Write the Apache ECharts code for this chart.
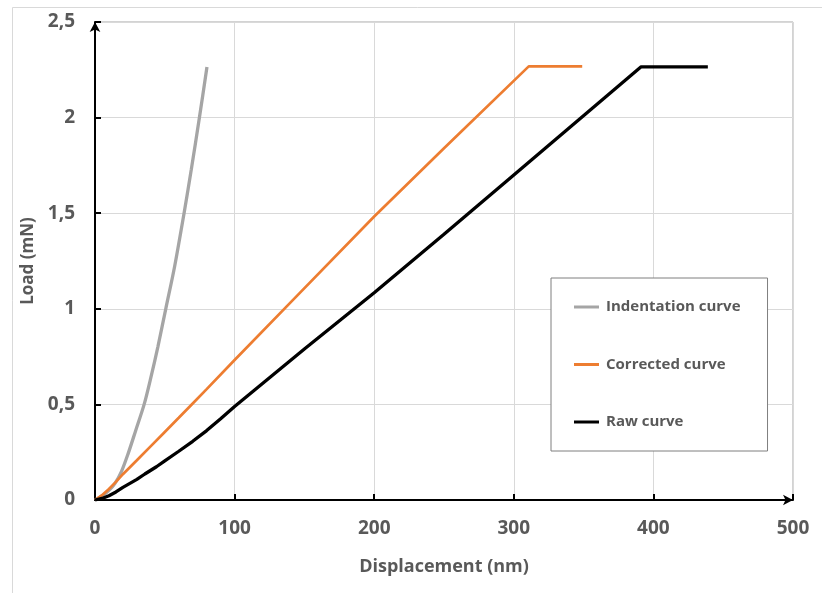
<!DOCTYPE html>
<html>
<head>
<meta charset="utf-8">
<script src="https://cdn.jsdelivr.net/npm/echarts@6/dist/echarts.min.js"></script>
<style>html,body{margin:0;padding:0;background:#fff;}#c{width:822px;height:593px;}</style>
</head>
<body>
<div id="c"></div>
<script>
const seriesNames = ['Indentation curve', 'Corrected curve', 'Raw curve'];
const indentation = [[0,0],[5,0.02],[10,0.05],[14.3,0.087],[19,0.15],[23.8,0.244],[29,0.36],[35.2,0.5],[40,0.64],[45,0.8],[50.7,1.0],[57,1.22],[63.8,1.5],[69,1.73],[74.8,2.0],[80.2,2.265]];
const corrected = [[0,0],[5,0.025],[10,0.058],[15,0.095],[20,0.135],[30,0.208],[40,0.282],[50,0.356],[60,0.43],[70,0.505],[80,0.58],[100,0.732],[145,1.07],[200,1.483],[250,1.84],[310.7,2.268],[349,2.268]];
const raw = [[0,0],[5,0.008],[10,0.022],[15,0.042],[20,0.066],[30,0.108],[35.7,0.136],[44,0.174],[50,0.205],[60,0.255],[70,0.307],[80,0.363],[90,0.425],[100,0.489],[150,0.79],[200,1.084],[250,1.39],[300,1.70],[391,2.265],[439,2.265]];
const xTicks = [0, 100, 200, 300, 400, 500];
const yTicks = [0, 0.5, 1, 1.5, 2, 2.5];

const font = '"Open Sans", "Liberation Sans", sans-serif';
const chart = echarts.init(document.getElementById('c'));
chart.setOption({
  animation: false,
  backgroundColor: '#fff',
  graphic: [{
    type: 'rect', left: 10, top: 5,
    shape: { width: 830, height: 600 },
    style: { fill: 'none', stroke: '#d9d9d9', lineWidth: 1 }, silent: true
  }],
  grid: { left: 95, right: 29, top: 22, bottom: 93, show: true, borderColor: '#a6a6a6', borderWidth: 1 },
  legend: {
    orient: 'vertical', left: 551, top: 278,
    padding: [21, 27, 21, 23],
    backgroundColor: '#fff', borderColor: '#7f7f7f', borderWidth: 1,
    itemWidth: 25, itemHeight: 3, itemGap: 41.5, icon: 'rect',
    textStyle: { fontFamily: font, fontWeight: 'bold', fontSize: 15, color: '#595959', lineHeight: 16, padding: [0,0,0,2] },
    data: seriesNames
  },
  xAxis: {
    type: 'value', min: xTicks[0], max: xTicks[xTicks.length - 1], interval: 100,
    name: 'Displacement (nm)', nameLocation: 'middle', nameGap: 58,
    nameTextStyle: { fontFamily: font, fontWeight: 'bold', fontSize: 18, color: '#595959' },
    axisLine: { lineStyle: { color: '#000', width: 2 }, symbol: ['none', 'arrow'], symbolSize: [8, 10] },
    axisTick: { show: true, inside: true, length: 6, lineStyle: { color: '#000', width: 2 } },
    axisLabel: { fontFamily: font, fontWeight: 'bold', fontSize: 19, color: '#595959', margin: 19 },
    splitLine: { lineStyle: { color: '#d9d9d9', width: 1 } }
  },
  yAxis: {
    type: 'value', min: yTicks[0], max: yTicks[yTicks.length - 1], interval: 0.5,
    name: 'Load (mN)', nameLocation: 'middle', nameGap: 58,
    nameTextStyle: { fontFamily: font, fontWeight: 'bold', fontSize: 17, color: '#595959' },
    axisLine: { lineStyle: { color: '#000', width: 2 }, symbol: ['none', 'arrow'], symbolSize: [8, 10] },
    axisTick: { show: true, inside: true, length: 6, lineStyle: { color: '#000', width: 2 } },
    axisLabel: { fontFamily: font, fontWeight: 'bold', fontSize: 19, color: '#595959', margin: 20,
      formatter: v => String(v).replace('.', ',') },
    splitLine: { lineStyle: { color: '#d9d9d9', width: 1 } }
  },
  series: [
    { name: seriesNames[0], type: 'line', data: indentation, symbol: 'none', smooth: 0.3,
      lineStyle: { color: '#a5a5a5', width: 3.3 }, itemStyle: { color: '#a5a5a5' } },
    { name: seriesNames[1], type: 'line', data: corrected, symbol: 'none',
      lineStyle: { color: '#ed7d31', width: 2.7 }, itemStyle: { color: '#ed7d31' } },
    { name: seriesNames[2], type: 'line', data: raw, symbol: 'none',
      lineStyle: { color: '#000', width: 3.3 }, itemStyle: { color: '#000' } }
  ]
});
</script>
</body>
</html>
